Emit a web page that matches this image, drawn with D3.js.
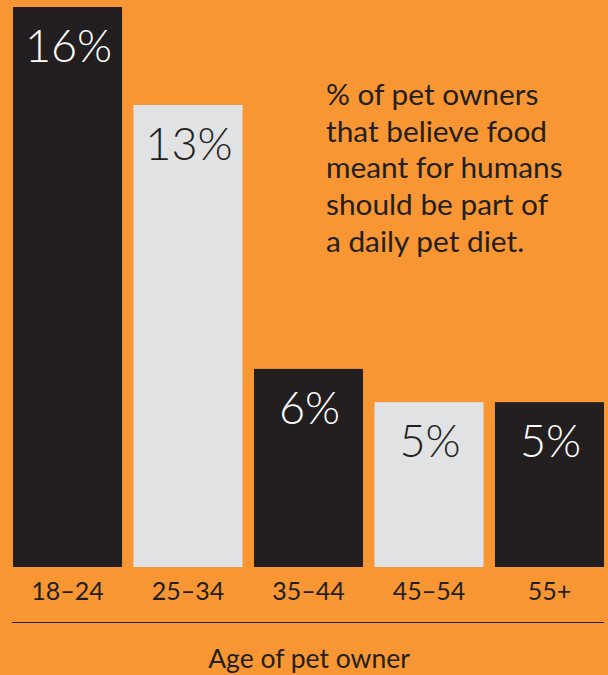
<!DOCTYPE html>
<html>
<head>
<meta charset="utf-8">
<script src="https://cdn.jsdelivr.net/npm/d3@7"></script>
<style>
	body { margin: 0; background: #F79632; }
	svg { display: block; font-family: Lato, "Open Sans", sans-serif; }
</style>
</head>
<body>
<div id="chart"></div>
<script>
// Data

var ageGroups = ['18–24', '25–34', '35–44', '45–54', '55+'];
var shareValues = [16, 13.2, 5.66, 4.71, 4.71];
var shareLabels = ['16%', '13%', '6%', '5%', '5%'];
var noteLines = ['% of pet owners', 'that believe food', 'meant for humans', 'should be part of', 'a daily pet diet.'];
var axisTitle = 'Age of pet owner';

// Config

var width = 608, height = 675;
var barBottom = 567, barTop = 7;
var colors = ['#231F20', '#E1E2E3'];
var ink = '#231F20';

var svg = d3.select('#chart').append('svg')
	.attr('width', width)
	.attr('height', height);

svg.append('rect')
	.attr('width', width)
	.attr('height', height)
	.attr('fill', '#F79632');

var x = d3.scaleBand()
	.domain(ageGroups)
	.range([13, 604])
	.paddingInner(0.095)
	.paddingOuter(0);

var y = d3.scaleLinear()
	.domain([0, 16])
	.range([barBottom, barTop]);

var rows = ageGroups.map((g, i) => ({ group: g, value: shareValues[i], label: shareLabels[i], i: i }));

var bars = svg.selectAll('.bar')
	.data(rows)
	.enter().append('g')
		.attr('class', 'bar');

bars.append('rect')
	.attr('x', d => x(d.group))
	.attr('y', d => y(d.value))
	.attr('width', x.bandwidth())
	.attr('height', d => barBottom - y(d.value))
	.attr('fill', d => colors[d.i % 2]);

bars.append('text')
	.attr('x', d => x(d.group) + x.bandwidth() / 2 + 1)
	.attr('y', d => y(d.value) + 55)
	.attr('text-anchor', 'middle')
	.attr('font-size', 45)
	.attr('font-weight', 300)
	.attr('fill', d => d.i % 2 ? ink : '#fff')
	.text(d => d.label);

// Axis
var axis = svg.append('g')
	.attr('transform', `translate(0, ${barBottom})`)
	.call(d3.axisBottom(x).tickSize(0).tickPadding(0));
axis.select('.domain').remove();
axis.selectAll('text')
	.attr('dy', null)
	.attr('y', 33)
	.attr('font-family', 'Lato, sans-serif')
	.attr('font-size', 25)
	.attr('fill', ink);

svg.append('line')
	.attr('x1', 12).attr('x2', 604)
	.attr('y1', 622.5).attr('y2', 622.5)
	.attr('stroke', ink)
	.attr('stroke-width', 1.2);

svg.append('text')
	.attr('x', 309)
	.attr('y', 668)
	.attr('text-anchor', 'middle')
	.attr('font-size', 26.5)
	.attr('fill', ink)
	.text(axisTitle);

// Note
svg.append('g').selectAll('text')
	.data(noteLines)
	.enter().append('text')
		.attr('x', 326)
		.attr('y', (d, i) => 105 + i * 36.7)
		.attr('font-size', 29.8)
		.attr('fill', ink)
		.text(d => d);
</script>
</body>
</html>
